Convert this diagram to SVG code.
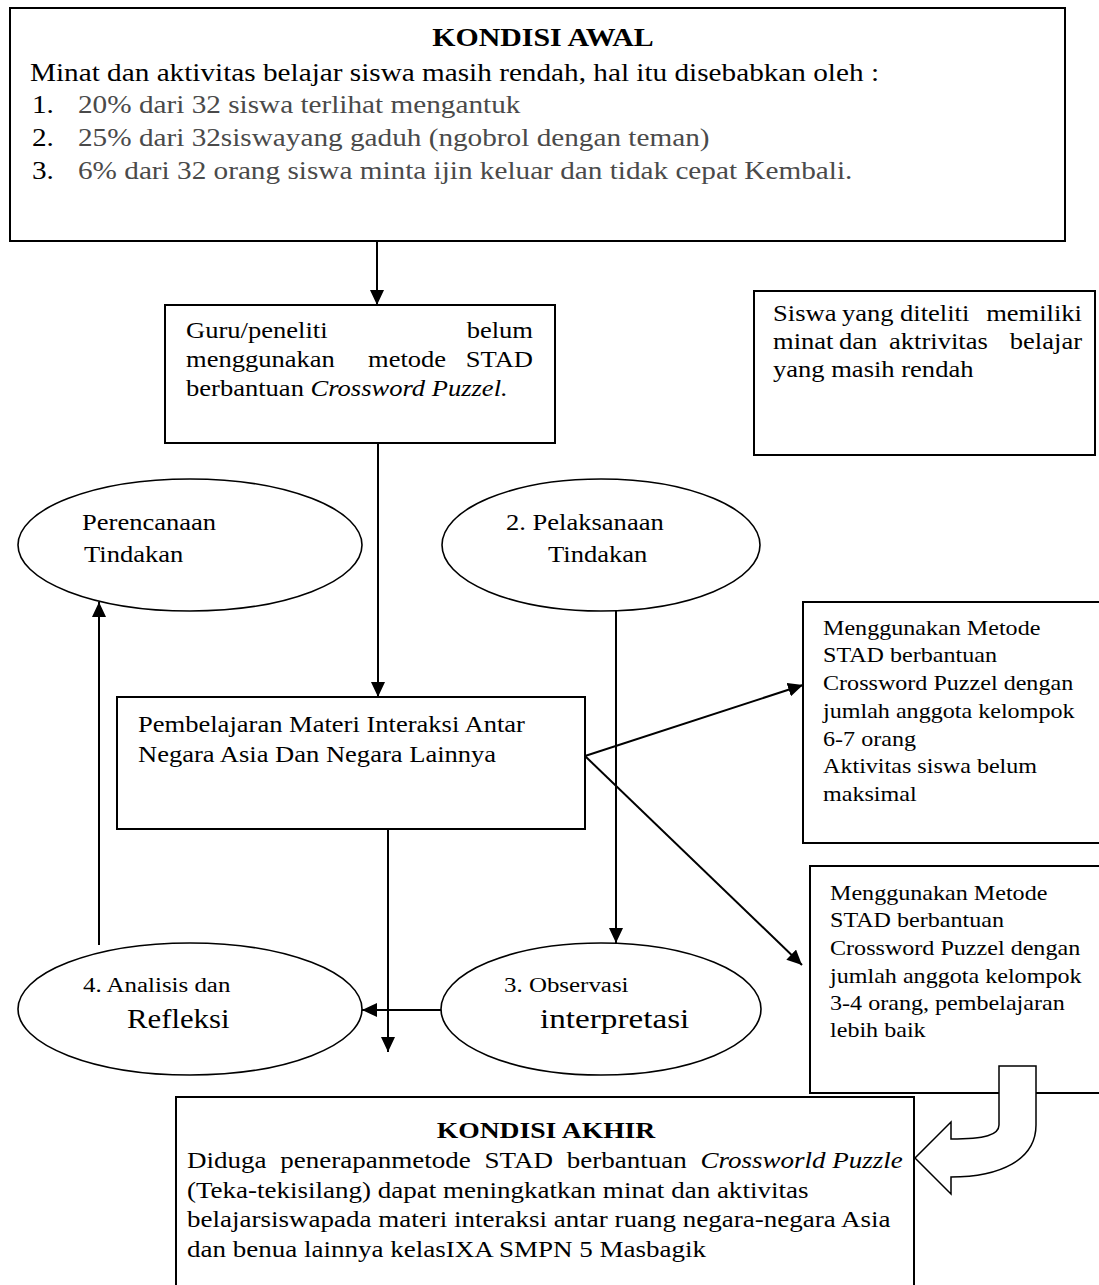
<svg xmlns="http://www.w3.org/2000/svg" width="1099" height="1285" viewBox="0 0 1099 1285">
<defs>
<marker id="ah" markerUnits="userSpaceOnUse" markerWidth="16" markerHeight="14" refX="15" refY="7" orient="auto">
<path d="M0,0 L15,7 L0,14 Z" fill="#000"/>
</marker>
<style>
text{font-family:"Liberation Serif","Times New Roman",serif;fill:#000}
.box{fill:#fff;stroke:#000;stroke-width:2}
.ell{fill:#fff;stroke:#000;stroke-width:1.6}
.con{fill:none;stroke:#000;stroke-width:2}
.t25{font-size:25px}
.t23{font-size:22.7px}
.tk{font-size:23.1px}
.t21{font-size:20.6px}
.t20{font-size:21.3px}
.big{font-size:27px}
.gray{fill:#4a4a4a}
.b{font-weight:bold}
.e{text-anchor:end}
.m{text-anchor:middle}
</style>
</defs>
<rect width="1099" height="1285" fill="#fff"/>

<g id="kondisi-awal">
<rect class="box" x="10" y="8" width="1055" height="233" stroke-width="2.5"/>
<text class="b m" font-size="25.5" transform="matrix(1.17 0 0 1 543 46)">KONDISI AWAL</text>
<text class="t25" transform="matrix(1.17 0 0 1 30 81)">Minat dan aktivitas belajar siswa masih rendah, hal itu disebabkan oleh :</text>
<text class="t25" transform="matrix(1.17 0 0 1 32 113)">1.</text>
<text class="t25 gray" transform="matrix(1.17 0 0 1 78 113)">20% dari 32 siswa terlihat mengantuk</text>
<text class="t25" transform="matrix(1.17 0 0 1 32 146)">2.</text>
<text class="t25 gray" transform="matrix(1.17 0 0 1 78 146)">25% dari 32siswayang gaduh (ngobrol dengan teman)</text>
<text class="t25" transform="matrix(1.17 0 0 1 32 179)">3.</text>
<text class="t25 gray" transform="matrix(1.17 0 0 1 78 179)">6% dari 32 orang siswa minta ijin keluar dan tidak cepat Kembali.</text>
</g>

<g id="guru">
<rect class="box" x="165" y="305" width="390" height="138"/>
<text class="t23" transform="matrix(1.17 0 0 1 186 338)">Guru/peneliti</text>
<text class="t23 e" transform="matrix(1.17 0 0 1 533 338)">belum</text>
<text class="t23" transform="matrix(1.17 0 0 1 186 367)">menggunakan</text>
<text class="t23" transform="matrix(1.17 0 0 1 368 367)">metode</text>
<text class="t23 e" transform="matrix(1.17 0 0 1 533 367)">STAD</text>
<text class="t23" transform="matrix(1.17 0 0 1 186 396)">berbantuan <tspan font-style="italic">Crossword Puzzel.</tspan></text>
</g>

<g id="siswa">
<rect class="box" x="754" y="291" width="341" height="164"/>
<text class="t23" transform="matrix(1.17 0 0 1 773 321)">Siswa</text>
<text class="t23" transform="matrix(1.17 0 0 1 842 321)">yang</text>
<text class="t23" transform="matrix(1.17 0 0 1 900 321)">diteliti</text>
<text class="t23 e" transform="matrix(1.17 0 0 1 1082 321)">memiliki</text>
<text class="t23" transform="matrix(1.17 0 0 1 773 349)">minat</text>
<text class="t23" transform="matrix(1.17 0 0 1 839 349)">dan</text>
<text class="t23" transform="matrix(1.17 0 0 1 889 349)">aktrivitas</text>
<text class="t23 e" transform="matrix(1.17 0 0 1 1082 349)">belajar</text>
<text class="t23" transform="matrix(1.17 0 0 1 773 377)">yang masih rendah</text>
</g>

<g id="perencanaan">
<ellipse class="ell" cx="190" cy="545" rx="172" ry="66"/>
<text class="t23" transform="matrix(1.17 0 0 1 82 530)">Perencanaan</text>
<text class="t23" transform="matrix(1.17 0 0 1 84 562)">Tindakan</text>
</g>

<g id="pelaksanaan">
<ellipse class="ell" cx="601" cy="545" rx="159" ry="66"/>
<text class="t23" transform="matrix(1.17 0 0 1 506 530)">2.  Pelaksanaan</text>
<text class="t23" transform="matrix(1.17 0 0 1 548 562)">Tindakan</text>
</g>

<g id="pembelajaran">
<rect class="box" x="117" y="697" width="468" height="132"/>
<text class="t23" transform="matrix(1.17 0 0 1 138 732)">Pembelajaran Materi Interaksi Antar</text>
<text class="t23" transform="matrix(1.17 0 0 1 138 762)">Negara Asia Dan Negara Lainnya</text>
</g>

<g id="hasil-1">
<rect class="box" x="803" y="602" width="310" height="241"/>
<text class="t21" transform="matrix(1.17 0 0 1 823 635)">Menggunakan Metode</text>
<text class="t21" transform="matrix(1.17 0 0 1 823 662)">STAD berbantuan</text>
<text class="t21" transform="matrix(1.17 0 0 1 823 690)">Crossword Puzzel dengan</text>
<text class="t21" transform="matrix(1.17 0 0 1 823 718)">jumlah anggota kelompok</text>
<text class="t21" transform="matrix(1.17 0 0 1 823 746)">6-7 orang</text>
<text class="t21" transform="matrix(1.17 0 0 1 823 773)">Aktivitas siswa belum</text>
<text class="t21" transform="matrix(1.17 0 0 1 823 801)">maksimal</text>
</g>

<g id="hasil-2">
<rect class="box" x="810" y="866" width="303" height="227"/>
<text class="t21" transform="matrix(1.17 0 0 1 830 900)">Menggunakan Metode</text>
<text class="t21" transform="matrix(1.17 0 0 1 830 927)">STAD berbantuan</text>
<text class="t21" transform="matrix(1.17 0 0 1 830 955)">Crossword Puzzel dengan</text>
<text class="t21" transform="matrix(1.17 0 0 1 830 983)">jumlah anggota kelompok</text>
<text class="t21" transform="matrix(1.17 0 0 1 830 1010)">3-4 orang, pembelajaran</text>
<text class="t21" transform="matrix(1.17 0 0 1 830 1037)">lebih baik</text>
</g>

<g id="analisis">
<ellipse class="ell" cx="190" cy="1009" rx="172" ry="66"/>
<text class="t20" transform="matrix(1.17 0 0 1 83 992)">4.  Analisis dan</text>
<text class="big" transform="matrix(1.14 0 0 1 127 1028)">Refleksi</text>
</g>

<g id="observasi">
<ellipse class="ell" cx="601" cy="1009" rx="160" ry="66"/>
<text class="t20" transform="matrix(1.17 0 0 1 504 992)">3. Observasi</text>
<text class="big" transform="matrix(1.23 0 0 1 540 1028)">interpretasi</text>
</g>

<g id="kondisi-akhir">
<rect class="box" x="176" y="1097" width="738" height="210"/>
<text class="b m" font-size="23.6" transform="matrix(1.17 0 0 1 546 1138)">KONDISI AKHIR</text>
<text class="tk" transform="matrix(1.17 0 0 1 187 1168)"><tspan word-spacing="6">Diduga penerapanmetode STAD berbantuan </tspan><tspan font-style="italic">Crossworld Puzzle</tspan></text>
<text class="tk" transform="matrix(1.17 0 0 1 187 1198)">(Teka-tekisilang) dapat meningkatkan minat dan aktivitas</text>
<text class="tk" transform="matrix(1.17 0 0 1 187 1227)">belajarsiswapada materi interaksi antar ruang negara-negara Asia</text>
<text class="tk" transform="matrix(1.17 0 0 1 187 1257)">dan benua lainnya kelasIXA SMPN 5 Masbagik</text>
</g>

<g id="connectors">
<line class="con" x1="377" y1="241" x2="377" y2="305" marker-end="url(#ah)"/>
<line class="con" x1="378" y1="443" x2="378" y2="697" marker-end="url(#ah)"/>
<line class="con" x1="616" y1="611" x2="616" y2="943" marker-end="url(#ah)"/>
<line class="con" x1="99" y1="945" x2="99" y2="602" marker-end="url(#ah)"/>
<line class="con" x1="388" y1="829" x2="388" y2="1052" marker-end="url(#ah)"/>
<line class="con" x1="441" y1="1010" x2="362" y2="1010" marker-end="url(#ah)"/>
<line class="con" x1="585" y1="756" x2="803" y2="685" marker-end="url(#ah)"/>
<line class="con" x1="585" y1="756" x2="802" y2="965" marker-end="url(#ah)"/>
<path d="M999,1066 L1036,1066 L1036,1125 C1036,1160 1000,1177 951,1177 L951,1194 L915,1158 L951,1122 L951,1139 C985,1139 999,1135 999,1125 Z" fill="#fff" stroke="#000" stroke-width="1.5"/>
</g>
</svg>
